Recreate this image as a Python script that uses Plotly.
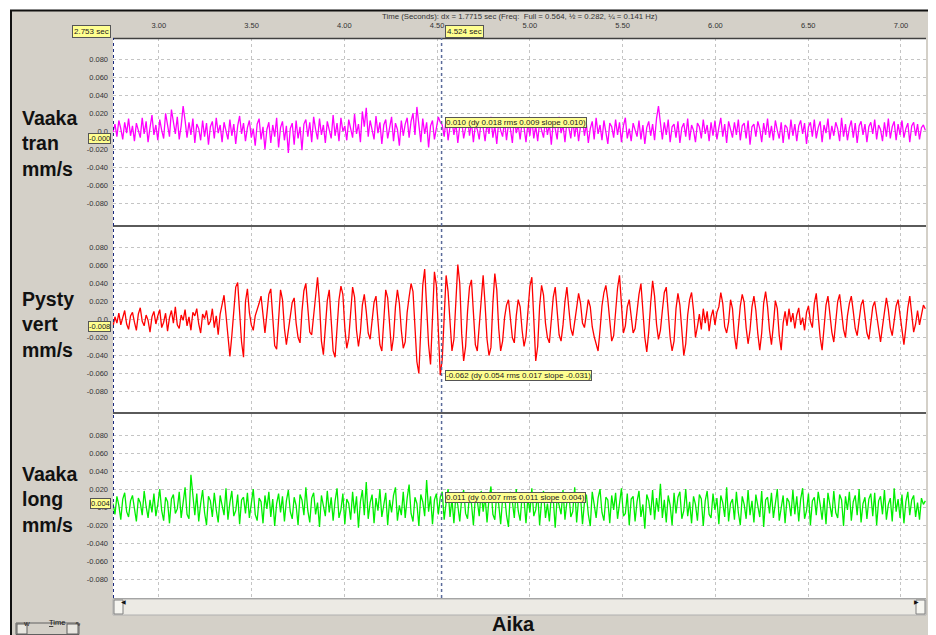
import numpy as np
import plotly.graph_objects as go

# ---------------- data (values in 0.001 mm/s) ----------------
SAMPLE_START = 2.753   # s, first sample
SAMPLE_STEP = 0.0105   # s, sample interval
UNIT = 0.001           # mm/s per stored unit

tran_raw = [
    -1, 8, -6, 12, 3, -9, 10, -2, 14, -5,
    6, -11, 9, 2, -7, 15, -3, 11, -12, 4,
    18, -4, 7, -10, 13, 1, -8, 20, 5, -6,
    24, 9, -3, 16, -9, 6, 28, 12, -7, 10,
    -4, 14, -13, 8, 3, -10, 12, -6, 9, -15,
    5, 11, -8, 15, -2, 7, -12, 10, 1, -9,
    13, -5, 8, -14, 6, 17, -3, 9, -11, 4,
    12, -7, 3, -16, 8, 14, -9, 5, -20, 2,
    10, -13, 7, -6, 15, -18, 4, 11, -10, 6,
    -24, 3, 9, -15, 12, -8, 5, -21, 8, 13,
    -6, 10, -12, 16, 2, -9, 14, -4, 7, -13,
    11, 3, -8, 18, -5, 9, -11, 15, 0, 6,
    -10, 13, 4, -7, 19, -3, 8, -12, 22, 5,
    26, -6, 12, 3, -9, 17, -2, 10, -14, 7,
    13, -8, 5, 16, -11, 9, 2, -16, 12, -5,
    8, 15, -7, 11, 20, -4, 27, 9, -12, 14,
    -3, 10, -18, 6, 12, -9, 4, 16, 10, 7,
    -6, 14, -10, 5, 12, -4, 9, -13, 6, 11,
    -8, 3, 15, -5, 10, -12, 7, 2, -9, 13,
    4, -11, 9, -3, 16, -7, 6, -14, 11, 1,
    -6, 12, -10, 8, 3, -13, 15, -2, 7, -9,
    11, 4, -12, 9, -5, 14, -8, 6, -11, 10,
    2, -7, 13, -4, 8, -15, 11, 3, -9, 16,
    -2, 7, -12, 10, 4, -8, 13, -6, 9, -11,
    6, 14, -5, 8, -13, 3, 11, -9, 15, -3,
    7, -10, 12, 1, -14, 9, 5, -7, 13, -4,
    10, -12, 6, 15, -8, 3, -11, 9, 2, -6,
    12, -9, 7, -14, 4, 11, -5, 8, -10, 14,
    28, 6, -9, 10, -4, 13, -12, 5, 8, -7,
    11, -13, 4, 9, -6, 14, -10, 7, 1, -12,
    9, 5, -8, 13, -3, 7, -11, 10, -5, 12,
    -9, 4, 15, -6, 8, -13, 11, 2, -7, 10,
    -4, 13, -10, 6, 9, -8, 12, -15, 5, 8,
    -6, 11, 3, -12, 9, -4, 14, -7, 6, -10,
    12, 1, -8, 10, -13, 7, 4, -9, 13, -5,
    8, -11, 6, 12, -3, 9, -14, 5, 10, -6,
    13, -8, 4, 11, -12, 7, -2, 14, -9, 6,
    -5, 10, 3, -11, 15, -6, 8, -10, 4, 12,
    -7, 9, -13, 6, 11, -4, 8, -12, 5, 10,
    -3, 13, -9, 7, 2, -11, 10, -6, 14, -8,
    5, 11, -10, 8, -4, 12, -7, 3, 9, -12,
    6, 10, -5, 8, -9, 4, 7, 1,
]

vert_raw = [
    -8, 3, -4, 7, -6, 1, 10, -5, -11, 4,
    8, -3, -12, 6, 13, -2, -7, 5, -1, -14,
    3, 9, -5, 4, 11, -9, -3, 7, -13, 2,
    10, -4, 14, -6, -10, 5, -1, 11, -7, 3,
    -12, 8, 4, 12, -5, -15, 6, 1, 10, -6,
    -2, 12, -9, 4, -17, 6, 15, 27, 5, -22,
    -41, -18, 14, 36, 41, 10, -25, -42, 20, 34,
    8, -6, -12, 4, 10, 18, 26, 3, -15, 6,
    28, 34, 5, -29, -33, 4, 33, 22, -10, -28,
    -12, 8, 19, 24, -4, -20, -26, 9, 32, 40,
    12, -14, -17, 6, 30, 47, 18, -24, -39, -8,
    21, 33, 2, -35, -42, -10, 22, 37, 28, -9,
    -32, -21, 11, 36, 25, -12, -30, -14, 16, 28,
    9, -15, -22, 2, 19, 26, -4, -28, -35, 7,
    33, 24, -11, -35, -20, 14, 33, 18, -12, -32,
    -25, 8, 25, 40, 31, -12, -47, -60, -14, 38,
    56, 20, -28, -50, -6, 53, 38, -15, -62, -44,
    12, 49, 31, -8, -35, -22, 26, 61, 40, -16,
    -46, -30, 9, 36, 44, 5, -28, -35, -6, 30,
    49, 17, -22, -40, -31, 18, 51, 33, -10, -35,
    -24, 2, 16, 22, -3, -20, -26, 4, 22, 14,
    -12, -30, -19, 10, 37, 47, 5, -46, -30, 15,
    38, 27, -4, -20, -26, 3, 25, 36, 8, -17,
    -24, -6, 20, 36, 12, -10, -18, -5, 13, 29,
    18, -4, -9, 6, 22, 14, -8, -19, -28, -35,
    -12, 15, 30, 38, 22, -6, -24, -18, 10, 35,
    49, 12, -15, -7, 14, 22, 3, -15, -10, 12,
    28, 40, 8, -20, -36, -14, 18, 43, 26, -5,
    -22, -12, 10, 30, 36, 7, -20, -35, -24, 12,
    29, 16, -14, -40, -27, 5, 22, 30, 10, -20,
    -8, 6, -11, 12, -4, 9, -13, 3, 11, -6,
    8, 14, 30, 18, -8, -15, -3, 22, 12, -18,
    -33, -10, 15, 28, 19, -9, -27, -12, 14, 26,
    10, -16, -34, -15, 18, 31, 14, -12, -28, -6,
    21, 12, -18, -34, -4, 9, -7, 12, -3, 7,
    -10, 5, 13, -6, 2, -12, 8, 15, -2, -9,
    18, 29, 6, -20, -34, -10, 16, 26, 8, -14,
    -25, -3, 20, 28, 6, -11, -20, 4, 18, 26,
    9, -10, -18, 2, 16, 22, 3, -15, -22, -2,
    14, 20, 5, -12, -25, -8, 10, 24, 11, -9,
    -18, -1, 15, 22, 4, -12, -28, -9, 13, 26,
    8, -14, -5, 10, -6, 4, 16, 12,
]

long_raw = [
    4, -8, 12, 2, -14, 9, 16, -5, -11, 7,
    13, -3, -16, 10, 5, -9, 18, 1, -12, 8,
    -6, 15, -10, 3, 20, -4, -15, 11, 6, -18,
    9, 14, -7, -2, 17, -12, 5, 22, -8, -13,
    36, 10, -9, 15, -16, 4, 19, -6, -20, 12,
    7, -11, 16, -3, -17, 13, 2, -9, 21, -14,
    5, 18, -10, -4, 14, -19, 8, 11, -7, 16,
    -12, 3, 20, -8, -15, 10, 6, -18, 13, -2,
    17, -11, 9, -21, 4, 15, -6, 12, -16, 7,
    19, -5, -13, 11, 2, -20, 14, 8, -9, 22,
    -4, -17, 10, 16, -8, 5, -22, 13, 3, -10,
    18, -6, 11, -15, 7, 21, -12, -3, 15, -19,
    9, 4, -14, 17, -7, 12, -23, 6, 19, -9,
    28, -13, 5, 14, -18, 10, -4, 20, -11, 3,
    16, -20, 8, -6, 13, 22, -15, 2, -9, 17,
    -12, 10, 25, -7, -16, 11, 4, -21, 14, 6,
    -10, 30, -5, 12, -19, 8, 15, -8, 11, 17,
    -14, 5, 20, -11, 9, -18, 13, 2, -16, 10,
    19, -7, -13, 15, 4, -20, 11, 7, -10, 18,
    -5, 12, -17, 9, 23, -8, -14, 16, 3, -19,
    10, 14, -9, -22, 17, 6, -12, 20, -4, -15,
    13, 8, -18, 11, -6, 21, -10, -3, 15, -20,
    7, 18, -12, 4, -16, 13, 9, -23, 11, 2,
    -8, 19, -14, 6, 16, -11, -5, 22, -17, 9,
    12, -19, 5, 14, -8, -21, 17, 3, -12, 10,
    20, -6, -15, 11, 8, -18, 13, -3, 16, -13,
    4, 21, -10, -7, 15, -20, 9, 12, -16, 6,
    18, -11, 3, -24, 14, 7, -9, 19, -14, 10,
    -5, 26, -12, 8, -17, 13, 2, -20, 16, -7,
    11, 17, -13, -4, 20, -10, 6, -18, 12, 3,
    -15, 14, 9, -21, 7, 18, -8, -12, 15, -3,
    10, -19, 13, 5, -11, 22, -16, 4, 9, -14,
    17, -6, -20, 12, 3, -13, 19, -9, 7, -17,
    14, 2, -11, 18, -22, 8, 11, -7, 16, -12,
    5, 20, -15, -3, 13, -18, 10, 6, -10, 19,
    -8, 12, -16, 9, 21, -13, -4, 15, -20, 7,
    11, -9, 17, 3, -14, 10, -19, 16, 4, -11,
    18, -6, -12, 14, 8, -21, 12, -3, 17, -15,
    6, 13, -9, 20, -17, 4, 11, -13, 9, 15,
    -10, 16, -20, 7, 12, -8, 19, -14, 3, 10,
    -16, 21, -5, 9, -12, 14, -18, 6, 17, -9,
    8, 13, -11, 5, -14, 10, 3, 7,
]

channel_names = ["Vaaka<br>tran<br>mm/s", "Pysty<br>vert<br>mm/s", "Vaaka<br>long<br>mm/s"]
channel_colors = ["#ff00ff", "#ff0000", "#00ee00"]
x_ticks = [3.0, 3.5, 4.0, 4.5, 5.0, 5.5, 6.0, 6.5, 7.0]
x_tick_text = ["3.00", "3.50", "4.00", "4.50", "5.00", "5.50", "6.00", "6.50", "7.00"]
y_ticks = [-0.08, -0.06, -0.04, -0.02, 0.0, 0.02, 0.04, 0.06, 0.08]
y_tick_text = ["-0.080", "-0.060", "-0.040", "-0.020", "0.0", "0.020", "0.040", "0.060", "0.080"]
cursor_left = 2.753
cursor_right = 4.524
left_values = [-0.000, -0.008, 0.004]
left_texts = ["-0.000", "-0.008", "0.004"]
cursor_values = [0.010, -0.062, 0.011]
cursor_texts = ["0.010 (dy 0.018 rms 0.009 slope 0.010)",
                "-0.062 (dy 0.054 rms 0.017 slope -0.031)",
                "0.011 (dy 0.007 rms 0.011 slope 0.004)"]
header_text = "Time (Seconds): dx = 1.7715 sec (Freq:  Full = 0.564, \u00bd = 0.282, \u00bc = 0.141 Hz)"
x_title = "Aika"

# ---------------- layout helpers ----------------
# the page body has an 8 px margin, so the figure is drawn 8 px in from the window corner
OFF = 8
W, H = 936 - OFF, 635 - OFF
def px(x):
    return (x - OFF) / W
def py(y):
    return 1 - (y - OFF) / H

GRAY = "#d4d0c8"
TAG = "#ffff90"
FONT = "Liberation Sans, Arial, sans-serif"

x_dom = [px(113), px(926)]
y_doms = [[py(225), py(38)], [py(412), py(227)], [py(598), py(414)]]
y_ranges = [[-0.104, 0.1035], [-0.1028, 0.1028], [-0.1010, 0.1035]]
x_range = [2.753, 7.135]
label_centers = [143, 324, 499]

series = [tran_raw, vert_raw, long_raw]

fig = go.Figure()
for k, raw in enumerate(series):
    t = SAMPLE_START + SAMPLE_STEP * np.arange(len(raw))
    v = np.array(raw, dtype=float) * UNIT
    suffix = "" if k == 0 else str(k + 1)
    fig.add_trace(go.Scatter(x=t, y=v, mode="lines",
                             line=dict(color=channel_colors[k], width=1.3),
                             xaxis="x" + suffix, yaxis="y" + suffix,
                             hoverinfo="skip"))

layout = dict(
    width=W, height=H, margin=dict(l=0, r=0, t=0, b=0),
    paper_bgcolor=GRAY, plot_bgcolor="white", showlegend=False,
    font=dict(family=FONT, color="#333333", size=7),
)
for k in range(3):
    suffix = "" if k == 0 else str(k + 1)
    xa = dict(domain=x_dom, range=x_range, anchor="y" + suffix,
              tickvals=x_ticks, ticktext=x_tick_text,
              showgrid=True, gridcolor="#c4c4c4", griddash="3px,3px", gridwidth=1,
              zeroline=False, showline=False, fixedrange=True)
    if k == 0:
        xa.update(side="top", showticklabels=True, ticks="outside", ticklen=6,
                  tickcolor=GRAY, tickfont=dict(size=7.5, color="#333333"))
    else:
        xa.update(showticklabels=False, ticks="", matches="x")
    ya = dict(domain=y_doms[k], range=y_ranges[k], anchor="x" + suffix,
              tickvals=y_ticks, ticktext=y_tick_text,
              showgrid=True, gridcolor="#c4c4c4", griddash="3px,3px", gridwidth=1,
              zeroline=False, showline=False, ticks="", ticklabelstandoff=4,
              tickfont=dict(size=7.5, color="#333333"), fixedrange=True)
    layout["xaxis" + suffix] = xa
    layout["yaxis" + suffix] = ya
fig.update_layout(**layout)

shapes = []
# white outer strips and black frame
shapes.append(dict(type="rect", xref="paper", yref="paper", x0=0, x1=1, y0=py(10), y1=1,
                   fillcolor="white", line=dict(width=0)))
shapes.append(dict(type="rect", xref="paper", yref="paper", x0=0, x1=px(10), y0=0, y1=1,
                   fillcolor="white", line=dict(width=0)))
shapes.append(dict(type="line", xref="paper", yref="paper", x0=px(10), x1=1, y0=py(10.5), y1=py(10.5),
                   line=dict(color="#111111", width=2)))
shapes.append(dict(type="line", xref="paper", yref="paper", x0=px(11), x1=px(11), y0=0, y1=py(10),
                   line=dict(color="#111111", width=2)))
# plot frame lines
shapes.append(dict(type="line", xref="paper", yref="paper", x0=x_dom[0], x1=x_dom[1], y0=py(38.5), y1=py(38.5),
                   line=dict(color="#404040", width=1.5)))
for yy in (226, 413):
    shapes.append(dict(type="line", xref="paper", yref="paper", x0=x_dom[0], x1=x_dom[1], y0=py(yy), y1=py(yy),
                       line=dict(color="#5a5a5a", width=2)))
shapes.append(dict(type="line", xref="paper", yref="paper", x0=x_dom[0], x1=x_dom[1], y0=py(598.5), y1=py(598.5),
                   line=dict(color="#9a9a9a", width=1)))
# cursors
shapes.append(dict(type="line", xref="x", yref="paper", x0=cursor_left, x1=cursor_left, y0=py(598), y1=py(38),
                   line=dict(color="#1a2a80", width=2, dash="dot")))
shapes.append(dict(type="line", xref="x", yref="paper", x0=cursor_right, x1=cursor_right, y0=py(598), y1=py(38),
                   line=dict(color="#5a6a9a", width=1.5, dash="dot")))
# scrollbar
shapes.append(dict(type="rect", xref="paper", yref="paper", x0=px(113), x1=px(926), y0=py(615), y1=py(599),
                   fillcolor="#eceae4", line=dict(color="#b0b0b0", width=1)))
for a, b in ((114, 123), (916, 925)):
    shapes.append(dict(type="rect", xref="paper", yref="paper", x0=px(a), x1=px(b), y0=py(614), y1=py(600),
                       fillcolor="#f6f5f0", line=dict(color="#808080", width=1)))
# Time button
shapes.append(dict(type="rect", xref="paper", yref="paper", x0=px(16), x1=px(79), y0=py(634.5), y1=py(623),
                   fillcolor=GRAY, line=dict(color="#606060", width=1)))
for a, b in ((17, 27), (67, 78)):
    shapes.append(dict(type="rect", xref="paper", yref="paper", x0=px(a), x1=px(b), y0=py(634), y1=py(624),
                       fillcolor="#e8e6e0", line=dict(color="#606060", width=1)))

annotations = []
annotations.append(dict(text=header_text, xref="paper", yref="paper", x=px(520), y=py(16),
                        showarrow=False, font=dict(size=7.8, color="#333333"), xanchor="center", yanchor="middle"))
annotations.append(dict(text="%.3f sec" % cursor_left, xref="paper", yref="paper", x=px(111), y=py(32),
                        showarrow=False, xanchor="right", yanchor="middle", font=dict(size=8, color="#222"),
                        bgcolor=TAG, bordercolor="#555", borderwidth=1, borderpad=1))
annotations.append(dict(text="%.3f sec" % cursor_right, xref="x", yref="paper", x=cursor_right, y=py(32),
                        xshift=3, showarrow=False, xanchor="left", yanchor="middle", font=dict(size=8, color="#222"),
                        bgcolor=TAG, bordercolor="#555", borderwidth=1, borderpad=1))
left_shift = [-7, 0, 0]
for k in range(3):
    suffix = "" if k == 0 else str(k + 1)
    annotations.append(dict(text="<b>%s</b>" % channel_names[k], xref="paper", yref="paper",
                            x=px(20), y=py(label_centers[k]), xanchor="left", yanchor="middle", align="left",
                            showarrow=False, font=dict(size=19.5, color="#111111", family=FONT)))
    annotations.append(dict(text=cursor_texts[k], xref="x" + suffix, yref="y" + suffix,
                            x=cursor_right, y=cursor_values[k], xshift=3, xanchor="left", yanchor="middle",
                            showarrow=False, font=dict(size=8, color="#222"),
                            bgcolor=TAG, bordercolor="#555", borderwidth=1, borderpad=0))
    annotations.append(dict(text=left_texts[k], xref="paper", yref="y" + suffix,
                            x=px(111), y=left_values[k], yshift=left_shift[k], xanchor="right", yanchor="middle",
                            showarrow=False, font=dict(size=7.5, color="#222"),
                            bgcolor=TAG, bordercolor="#555", borderwidth=1, borderpad=0))
annotations.append(dict(text="<b>%s</b>" % x_title, xref="paper", yref="paper", x=px(514), y=py(624),
                        xanchor="center", yanchor="middle", showarrow=False,
                        font=dict(size=20, color="#111111", family=FONT)))
annotations.append(dict(text="\u25c0", xref="paper", yref="paper", x=px(118.5), y=py(607),
                        showarrow=False, font=dict(size=6, color="#111")))
annotations.append(dict(text="\u25b6", xref="paper", yref="paper", x=px(920.5), y=py(607),
                        showarrow=False, font=dict(size=6, color="#111")))
annotations.append(dict(text="<u>T</u>ime", xref="paper", yref="paper", x=px(47), y=py(629),
                        showarrow=False, font=dict(size=7.5, color="#111")))
annotations.append(dict(text="W", xref="paper", yref="paper", x=px(22), y=py(629),
                        showarrow=False, font=dict(size=6, color="#111")))
annotations.append(dict(text="\u223f", xref="paper", yref="paper", x=px(72.5), y=py(629),
                        showarrow=False, font=dict(size=7, color="#111")))

fig.update_layout(shapes=shapes, annotations=annotations)
fig.write_html("out.html")
